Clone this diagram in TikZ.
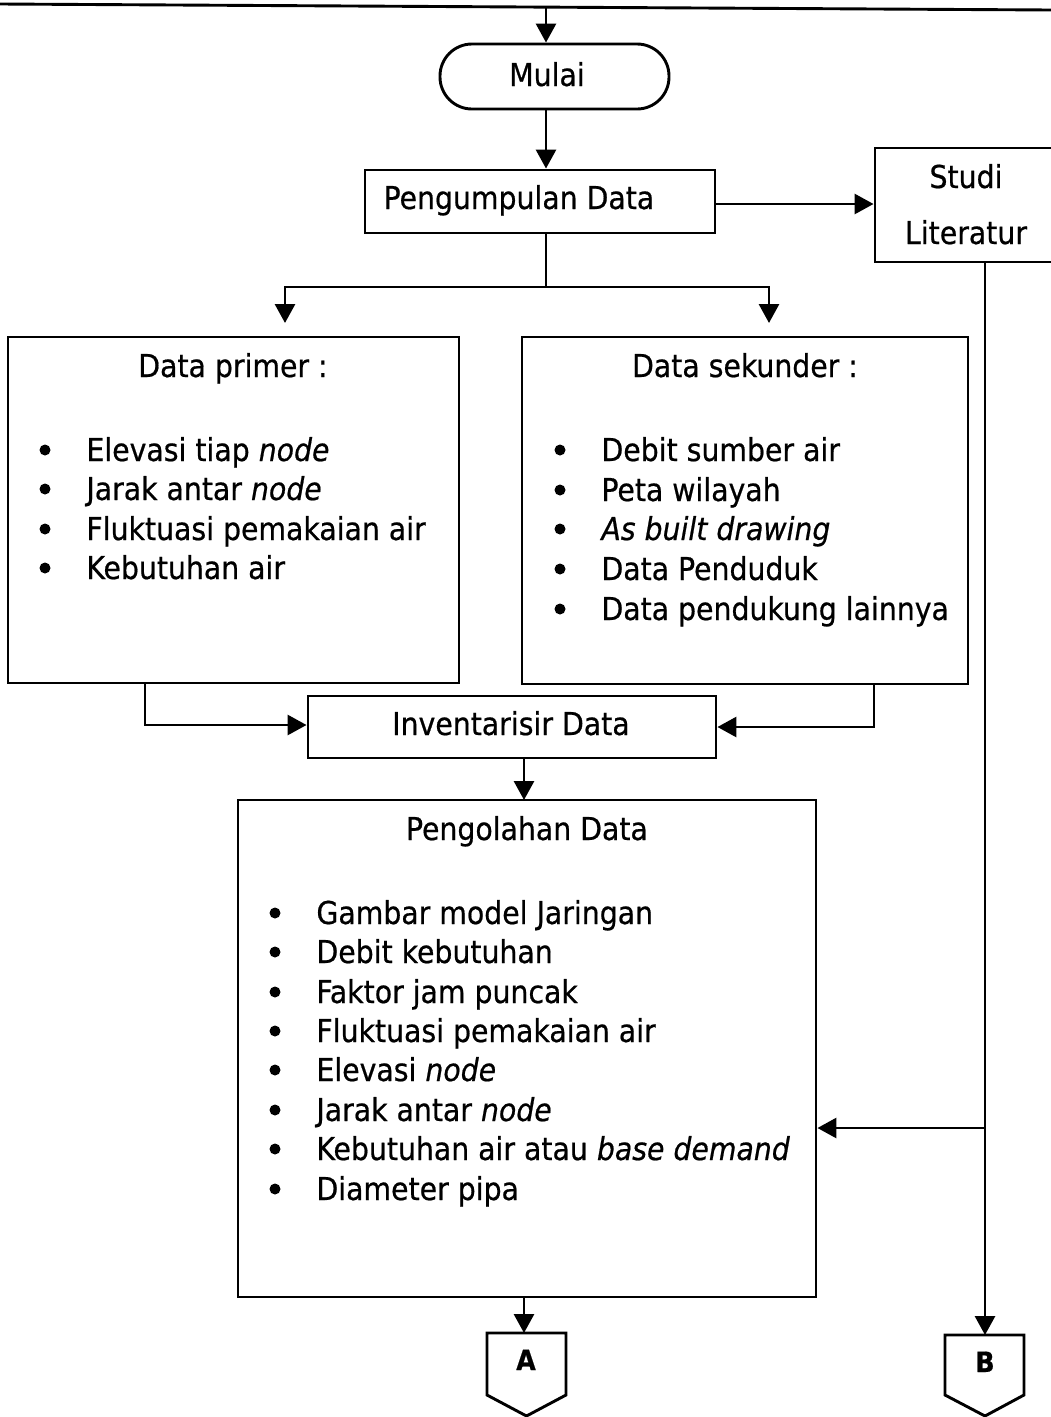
\documentclass[tikz,border=0pt]{standalone}
\usepackage{fontspec}
\setmainfont{DejaVu Sans Condensed}[FakeBold=0.6]
\usetikzlibrary{arrows.meta}
\begin{document}
\begin{tikzpicture}[x=1pt,y=-1pt,line width=2.9pt,
  arr/.style={-{Triangle[width=20pt,length=19pt]}},
  box/.style={draw,inner sep=0pt},
  txt/.style={font=\fontsize{31.5}{38}\selectfont,inner sep=0pt,anchor=base},
  item/.style={txt,anchor=base west},
  dot/.style={fill,circle,inner sep=0pt,minimum size=11pt}]
\useasboundingbox (0,0) rectangle (1051,1417);
% top rule
\coordinate (tl) at (0,4);
\coordinate (tr) at (1051,10);
\draw (tl) -- (tr);
\coordinate (t1) at (546,7);
% nodes
\node[box,rounded corners=32pt,minimum width=229pt,minimum height=65pt] (mulai) at (554.5,76.5) {};
\node[txt] (mulaiT) at (547,86) {Mulai};
\node[box,minimum width=350pt,minimum height=63pt] (kumpul) at (540,201.5) {};
\node[txt] (kumpulT) at (519,209) {Pengumpulan Data};
\node[minimum width=176pt,minimum height=114pt,inner sep=0pt] (studi) at (963,205) {};
\draw (1051,148) -- (875,148) -- (875,262) -- (1051,262);
\node[txt] (studiT1) at (966,188) {Studi};
\node[txt] (studiT2) at (966,244) {Literatur};
\node[box,minimum width=451pt,minimum height=346pt] (primer) at (233.5,510) {};
\node[txt] (primerT) at (233,377) {Data primer :};
\node[box,minimum width=446pt,minimum height=347pt] (sekunder) at (745,510.5) {};
\node[txt] (sekunderT) at (745,377) {Data sekunder :};
\node[box,minimum width=408pt,minimum height=62pt] (inv) at (512,727) {};
\node[txt] (invT) at (511,735) {Inventarisir Data};
\node[box,minimum width=578pt,minimum height=497pt] (olah) at (527,1048.5) {};
\node[txt] (olahT) at (527,840) {Pengolahan Data};
% lists
\foreach \y/\t [count=\i] in {450/{Elevasi tiap \textit{node}},489/{Jarak antar \textit{node}},529/{Fluktuasi pemakaian air},568/{Kebutuhan air}}{
  \node[dot] (pb\i) at (45,\y) {};
  \node[item] (pi\i) at (85,\y+11) {\t};
}
\foreach \y/\t [count=\i] in {450/{Debit sumber air},490/{Peta wilayah},529/{\textit{As built drawing}},569/{Data Penduduk},609/{Data pendukung lainnya}}{
  \node[dot] (sb\i) at (560,\y) {};
  \node[item] (si\i) at (600,\y+11) {\t};
}
\foreach \y/\t [count=\i] in {913/{Gambar model Jaringan},952/{Debit kebutuhan},992/{Faktor jam puncak},1031/{Fluktuasi pemakaian air},1070/{Elevasi \textit{node}},1110/{Jarak antar \textit{node}},1149/{Kebutuhan air atau \textit{base demand}},1189/{Diameter pipa}}{
  \node[dot] (ob\i) at (275,\y) {};
  \node[item] (oi\i) at (315,\y+11) {\t};
}
% off-page connectors
\coordinate (Atop) at (526.5,1333);
\draw (Atop) -- (566,1333) -- (566,1395) -- (526.5,1416) -- (487,1395) -- (487,1333) -- cycle;
\node[txt,font=\fontsize{28}{32}\selectfont\bfseries] (A) at (526,1370) {A};
\coordinate (Btop) at (985,1335);
\draw (Btop) -- (1024,1335) -- (1024,1395) -- (985,1416) -- (945,1395) -- (945,1335) -- cycle;
\node[txt,font=\fontsize{28}{32}\selectfont\bfseries] (B) at (985,1372) {B};
% connectors
\draw[arr] (t1) -- (t1 |- mulai.north);
\draw[arr] (t1 |- mulai.south) -- (t1 |- kumpul.north);
\draw[arr] (kumpul.east |- 0,204) -- (studi.west |- 0,204);
\coordinate (split) at (546,287);
\draw (t1 |- kumpul.south) -- (split);
\draw[arr] (split) -| (285,323);
\draw[arr] (split) -| (769,323);
\draw[arr] (145,683) |- (inv.west |- 0,725);
\draw[arr] (874,684) |- (inv.east |- 0,727);
\draw[arr] (524,758) -- (524,800);
\draw[arr] (985,262) -- (Btop);
\draw[arr] (985,1128) -- (olah.east |- 0,1128);
\draw[arr] (524,1297) -- (524,1333);
\end{tikzpicture}
\end{document}
